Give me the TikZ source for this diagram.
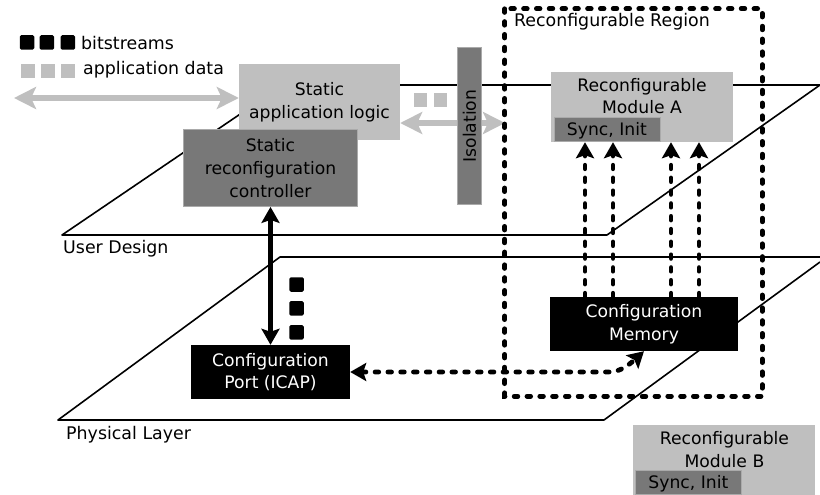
\documentclass[tikz,border=0pt]{standalone}
\usepackage{fontspec}
\setmainfont{DejaVu Sans}
\usetikzlibrary{positioning}
\usetikzlibrary{arrows.meta}

\definecolor{lightbox}{gray}{0.75}
\definecolor{darkbox}{gray}{0.47}

\begin{document}
\begin{tikzpicture}[>={Stealth[length=16pt,width=18pt,inset=3pt]},x=1pt,y=-1pt]
    \tikzset{block/.style= {rectangle, align=center, inner sep=0pt, font=\fontsize{17.2}{22.8}\selectfont},
             light/.style= {block, fill=lightbox, minimum width=182pt, minimum height=70pt},
             dark/.style= {block, fill=darkbox, draw=lightbox!70!darkbox, line width=0.8pt},
             syncbox/.style= {dark, minimum width=106pt, minimum height=24pt, text height=16pt, anchor=south west},
             memory/.style= {block, fill=black, text=white, minimum height=54pt},
             label/.style= {font=\fontsize{17.4}{20}\selectfont, inner sep=0pt, anchor=west},
             bit/.style= {fill=black, rounded corners=1.5pt, minimum size=14.5pt, inner sep=0pt},
             dat/.style= {fill=lightbox, minimum size=13.5pt, inner sep=0pt},
             plane/.style= {draw, line width=1.6pt, line join=round},
             dotline/.style= {draw, line width=4.8pt, line cap=round, dash pattern=on 3.6pt off 9.2pt},
             bus/.style= {draw=lightbox, line width=6.5pt, >={Stealth[length=22pt,width=22pt,inset=5pt]}}}

    \useasboundingbox (0,0) rectangle (820,495);

    % planes
    \path[plane] (820,85) -- (283,85) -- (62,235) -- (607,235) -- (820,85);
    \path[plane] (820,257) -- (280,257) -- (58,420) -- (604,420) -- (820,262);

    % blocks
    \node [block, fill=lightbox, minimum width=161pt, minimum height=76pt] (logic) at (319.5,102) {Static\\application logic};
    \coordinate (ext) at (14,98);
    \coordinate (isoend) at (505,123);
    \path[bus,<->] (ext) -- (ext -| logic.west);
    \path[bus,<->] (logic.east |- isoend) -- (isoend);

    \node [dark, minimum width=174pt, minimum height=77pt] (ctrl) at (270.5,168) {Static\\reconfiguration\\controller};
    \node [dark, minimum width=24pt, minimum height=157pt] (iso) at (469.5,126) {};
    \node [block, rotate=90] (isotext) at (iso) {Isolation};
    \node [light, text depth=22pt] (moda) at (642,107) {Reconfigurable\\Module A};
    \node [syncbox] (synca) at (553.5,141.5) {Sync, Init};
    \node [light, text depth=22pt, below right=283pt and -100pt of moda] (modb) {Reconfigurable\\Module B};
    \node [syncbox] (syncb) at (635,494.5) {Sync, Init};
    \node [memory, minimum width=188pt] (mem) at (644,324) {Configuration\\Memory};
    \node [memory, minimum width=159pt] (port) at (270.5,372) {Configuration\\Port (ICAP)};

    % region
    \node [minimum width=257pt, minimum height=387pt, inner sep=0pt] (region) at (633.5,202.5) {};
    \path[dotline] (region.north west) rectangle (region.south east);
    \node [label, right=9pt of region.north west, yshift=-13pt] (regiontext) {Reconfigurable Region};

    % legend
    \node [bit] (b1) at (27,42.5) {};
    \node [bit, right=5pt of b1] (b2) {};
    \node [bit, right=6pt of b2] (b3) {};
    \node [dat] (d1) at (28,71) {};
    \node [dat, right=6pt of d1] (d2) {};
    \node [dat, right=6pt of d2] (d3) {};
    \node [label] (bittext) at (81,43) {bitstreams};
    \node [label] (dattext) at (83,70) {application data};

    % transfers
    \node [dat] (d4) at (420.5,100) {};
    \node [dat, right=6pt of d4] (d5) {};
    \node [bit] (b4) at (296.5,284.5) {};
    \node [bit, below=9pt of b4] (b5) {};
    \node [bit, below=9pt of b5] (b6) {};

    \node [label] (user) at (63,249) {User Design};
    \node [label] (phys) at (66,435) {Physical Layer};

    % connectors
    \path[draw,<->,line width=4.4pt] (ctrl) -- (port);
    \foreach \off in {-59,-31,27,55}
        \path[dotline,->] ([xshift=\off pt]mem.north) -- ([xshift=\off pt]mem.north |- moda.south);
    \path[dotline,<->] (port.east) -- (610,372) .. controls (620,372) and (630,364) .. (mem.south);
\end{tikzpicture}
\end{document}
